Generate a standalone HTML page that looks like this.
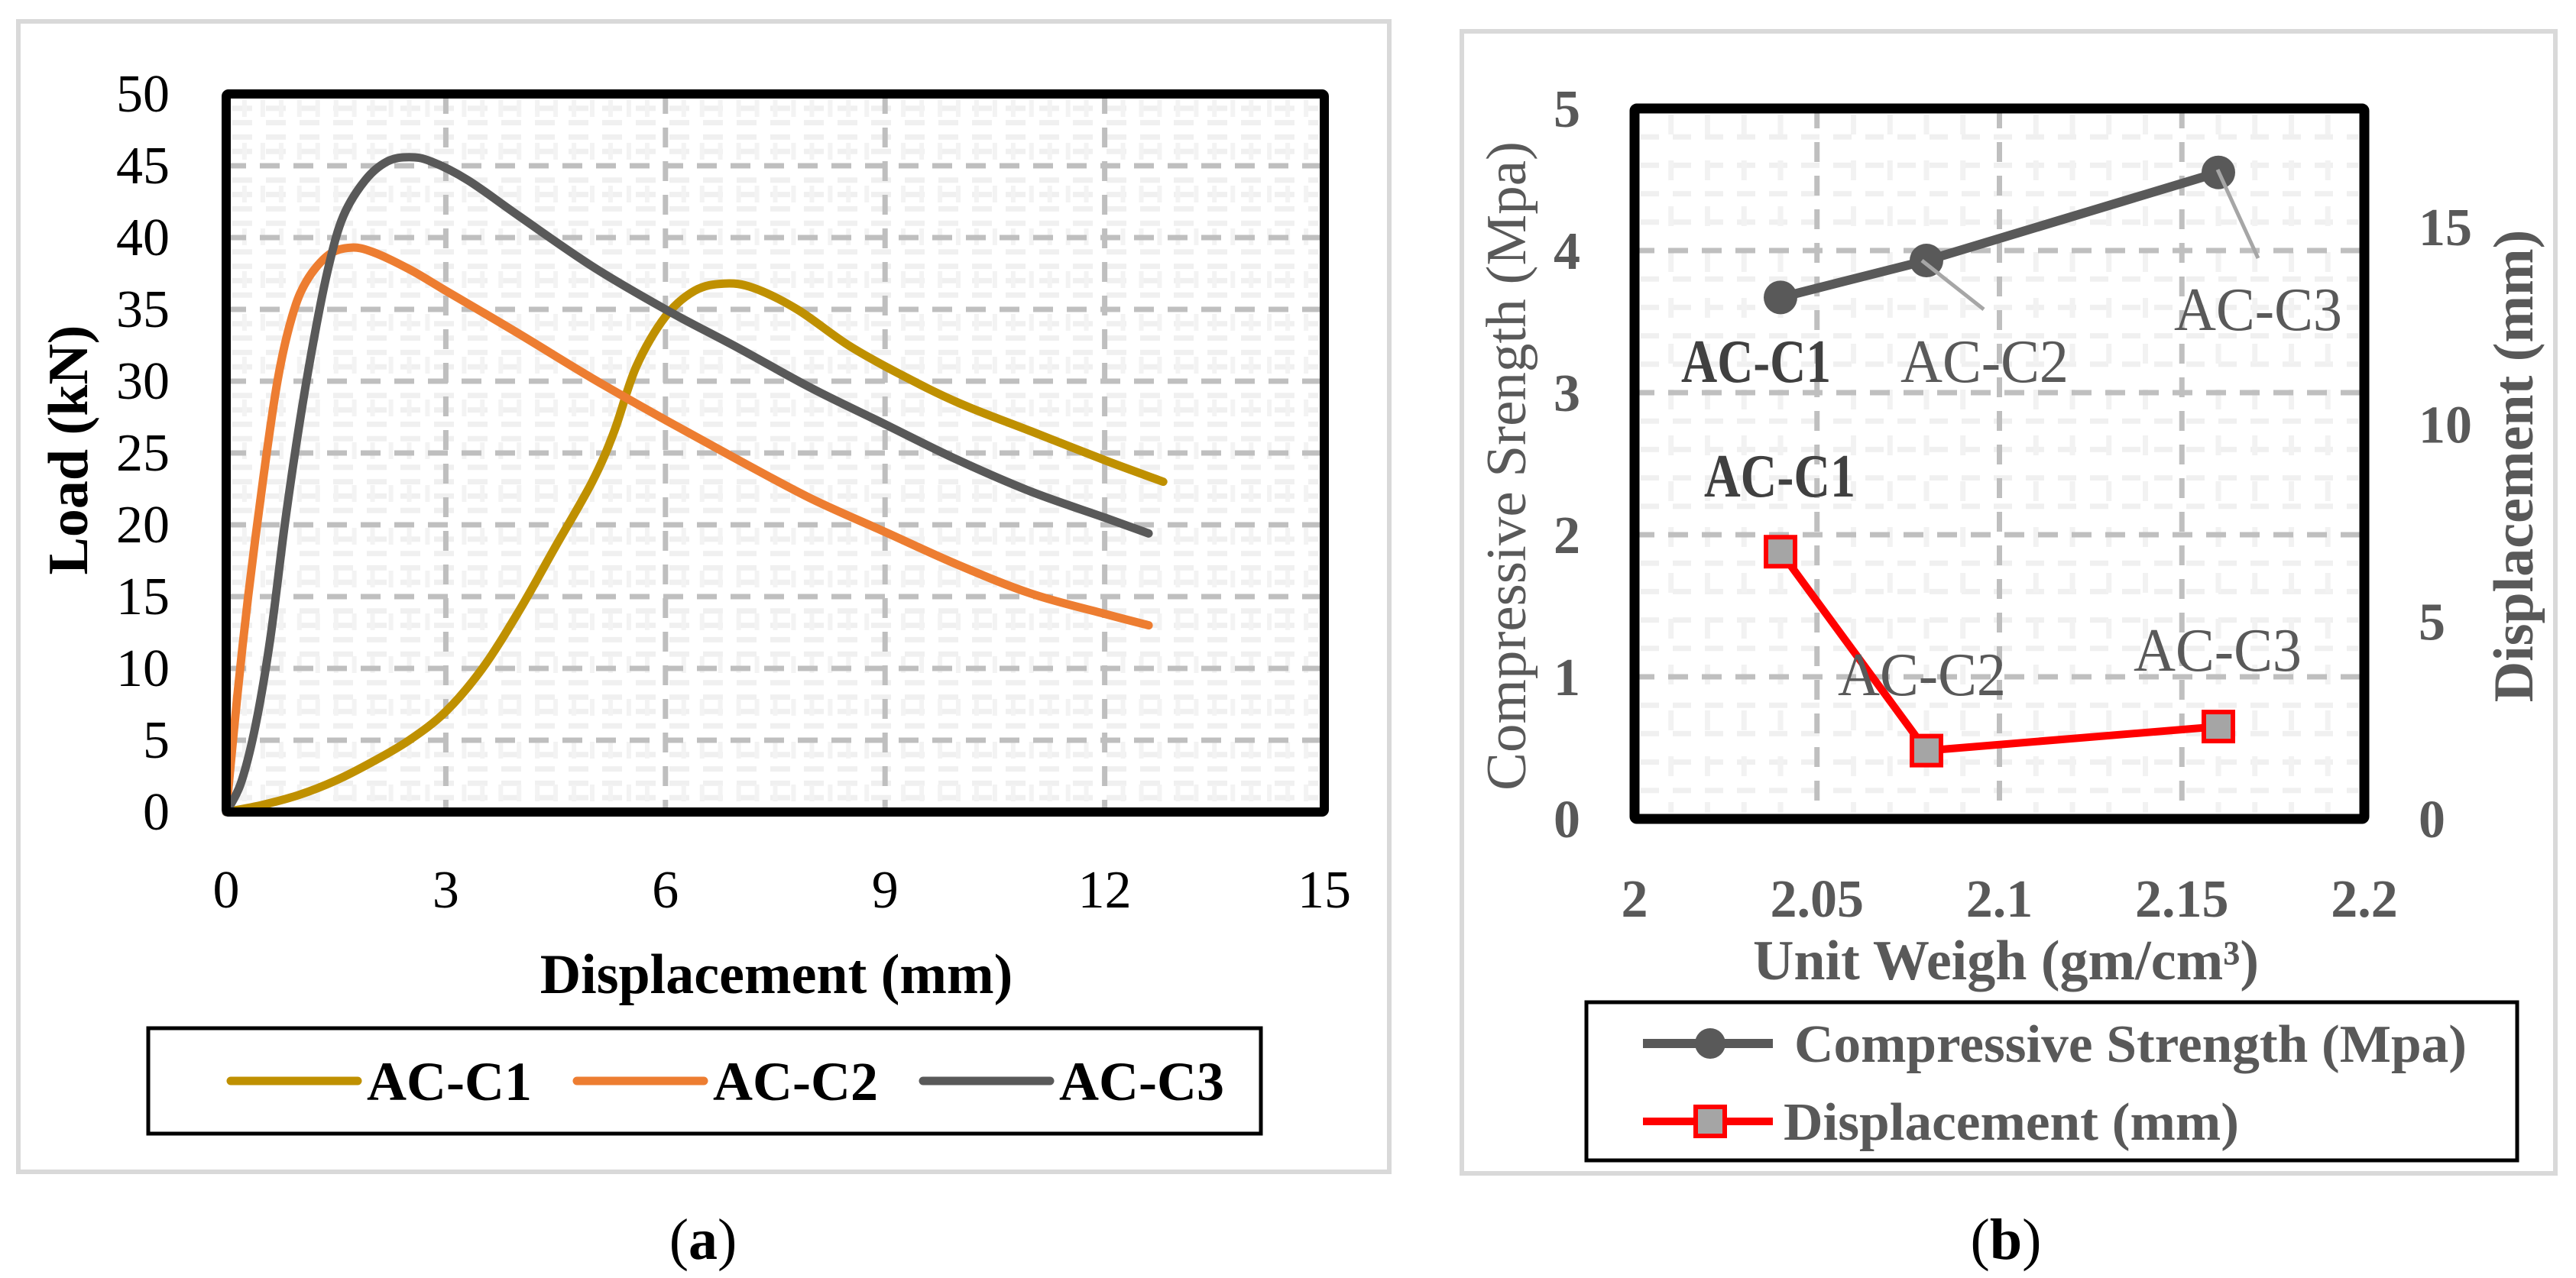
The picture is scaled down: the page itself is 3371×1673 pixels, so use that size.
<!DOCTYPE html>
<html><head><meta charset="utf-8"><style>
html,body{margin:0;padding:0;background:#fff}
svg{display:block}
text{font-family:"Liberation Serif",serif}
</style></head><body>
<svg id="fig" width="3371" height="1673" viewBox="0 0 3371 1673" xmlns="http://www.w3.org/2000/svg">
<rect x="0" y="0" width="3371" height="1673" fill="#fff"/>
<rect x="24" y="28" width="1794" height="1506" fill="none" stroke="#d9d9d9" stroke-width="6"/>
<rect x="1913" y="41" width="1431" height="1495" fill="none" stroke="#d9d9d9" stroke-width="6"/>
<g id="chartA"></g>
<g id="chartB"></g>
</svg>
<script>
// ---- Chart A data ----
const aXTicks = [0,3,6,9,12,15];
const aYTicks = [0,5,10,15,20,25,30,35,40,45,50];
const c1x = [0,0.5,1,1.5,2,2.5,3,3.5,4,4.5,5,5.3,5.6,6,6.4,6.8,7.2,7.8,8.5,9.2,10,11,12,12.8];
const c1y = [0,0.5,1.2,2.2,3.5,5,7,10,14,18.5,23,26.5,31,34.5,36.3,36.8,36.5,35,32.5,30.5,28.5,26.5,24.5,23];
const c2x = [0,0.15,0.3,0.5,0.7,0.9,1.1,1.4,1.7,2,2.5,3,4,5,6,7,8,9,10,11,12,12.6];
const c2y = [0,8,15,23,30,34.5,37,38.8,39.3,39,37.8,36.3,33.3,30.2,27.3,24.5,21.8,19.5,17.2,15.2,13.8,13];
const c3x = [0,0.2,0.4,0.6,0.8,1,1.2,1.4,1.6,1.9,2.2,2.5,2.8,3.3,4,5,6,7,8,9,10,11,12,12.6];
const c3y = [0,2,6,12,20,27,33,38,41.5,44,45.3,45.6,45.3,44,41.5,38,35,32.3,29.5,27,24.5,22.3,20.5,19.4];
const aSeriesNames = ["AC-C1","AC-C2","AC-C3"];

// ---- Chart B data ----
const bXTicks = [2,2.05,2.1,2.15,2.2];
const bYTicks = [0,1,2,3,4,5];
const bY2Ticks = [0,5,10,15];
const bUnitWeight = [2.04,2.08,2.16];
const bStrength = [3.67,3.93,4.55];
const bDisp = [6.77,1.73,2.34];
const bLabels = ["AC-C1","AC-C2","AC-C3"];

const NS="http://www.w3.org/2000/svg";
function mk(tag,attrs,parent,txt){const e=document.createElementNS(NS,tag);for(const k in attrs)e.setAttribute(k,attrs[k]);if(txt!==undefined)e.textContent=txt;parent.appendChild(e);return e;}
function smooth(P){let d='M'+P[0][0].toFixed(1)+','+P[0][1].toFixed(1);
 for(let i=0;i<P.length-1;i++){const p0=P[Math.max(i-1,0)],p1=P[i],p2=P[i+1],p3=P[Math.min(i+2,P.length-1)];
  const c1=[p1[0]+(p2[0]-p0[0])/6,p1[1]+(p2[1]-p0[1])/6],c2=[p2[0]-(p3[0]-p1[0])/6,p2[1]-(p3[1]-p1[1])/6];
  d+=' C'+c1.map(v=>v.toFixed(1)).join(',')+' '+c2.map(v=>v.toFixed(1)).join(',')+' '+p2[0].toFixed(1)+','+p2[1].toFixed(1);}
 return d;}

// ===== Chart A =====
const A=document.getElementById('chartA');
const aL=296,aR=1733,aT=123,aB=1063;
const ax=v=>aL+(v-0)/15*(aR-aL);
const ay=v=>aB-(v-0)/50*(aB-aT);
for(let k=1;k<50;k++){if(k%5===0)continue;
 const ln=mk('line',{x1:aL+8,x2:aR-8,y1:ay(k),y2:ay(k),stroke:'#f0f0f0','stroke-width':7,'stroke-dasharray':'26 18'},A);
 }
for(let k=1;k<60;k++){if(k%12===0)continue;
 const ln=mk('line',{x1:ax(k*0.25),x2:ax(k*0.25),y1:aT+8,y2:aB-8,stroke:'#f3f3f3','stroke-width':6,'stroke-dasharray':'22 34'},A);
 }
aYTicks.forEach(v=>{if(v>0&&v<50){const l=mk('line',{x1:aL,x2:aR,y1:ay(v),y2:ay(v),stroke:'#bfbfbf','stroke-width':7,'stroke-dasharray':'26 18'},A);
 }
 const t=mk('text',{x:222,y:ay(v)+23,'text-anchor':'end','font-size':70,fill:'#000'},A,String(v));
 });
aXTicks.forEach(v=>{if(v>0&&v<15){const l=mk('line',{x1:ax(v),x2:ax(v),y1:aT,y2:aB,stroke:'#bfbfbf','stroke-width':7,'stroke-dasharray':'26 18'},A);
 }
 const t=mk('text',{x:ax(v),y:1188,'text-anchor':'middle','font-size':70,fill:'#000'},A,String(v));
 });
const aCols=['#bf9000','#ed7d31','#595959'];
[[c1x,c1y],[c2x,c2y],[c3x,c3y]].forEach((s,i)=>{
 const P=s[0].map((x,j)=>[ax(x),ay(s[1][j])]);
 const p=mk('path',{d:smooth(P),fill:'none',stroke:aCols[i],'stroke-width':11,'stroke-linejoin':'round','stroke-linecap':'round'},A);
 });
const aFr=mk('rect',{x:aL,y:aT,width:aR-aL,height:aB-aT,fill:'none',stroke:'#000','stroke-width':12,rx:3},A);

let t;
t=mk('text',{x:1016,y:1300,'text-anchor':'middle','font-size':74,'font-weight':'bold'},A,'Displacement (mm)');

t=mk('text',{x:0,y:0,transform:'translate(114,589) rotate(-90)','text-anchor':'middle','font-size':74,'font-weight':'bold'},A,'Load (kN)');

const aLeg=mk('rect',{x:194,y:1346,width:1456,height:138,fill:'#fff',stroke:'#000','stroke-width':5},A);

const aLegX=[302,755,1208];
aSeriesNames.forEach((n,i)=>{
 const l=mk('line',{x1:aLegX[i],x2:aLegX[i]+166,y1:1415,y2:1415,stroke:aCols[i],'stroke-width':11,'stroke-linecap':'round'},A);
 
 const tt=mk('text',{x:aLegX[i]+178,y:1440,'font-size':72,'font-weight':'bold'},A,n);
 });
t=mk('text',{x:920,y:1648,'text-anchor':'middle','font-size':76},A,'');

mk('tspan',{},t,'(');mk('tspan',{'font-weight':'bold'},t,'a');mk('tspan',{},t,')');

// ===== Chart B =====
const B=document.getElementById('chartB');
const bL=2139,bR=3094,bT=142,bB=1072;
const bx=v=>bL+(v-2)/0.2*(bR-bL);
const by=v=>bB-v/5*(bB-bT);
const by2=v=>bB-v/18*(bB-bT);
for(let k=1;k<25;k++){if(k%5===0)continue;
 const l=mk('line',{x1:bL+8,x2:bR-8,y1:by(k*0.2),y2:by(k*0.2),stroke:'#f0f0f0','stroke-width':7,'stroke-dasharray':'24 18'},B);
 }
for(let k=1;k<20;k++){if(k%5===0)continue;
 const l=mk('line',{x1:bx(2+k*0.01),x2:bx(2+k*0.01),y1:bT+8,y2:bB-8,stroke:'#f2f2f2','stroke-width':7,'stroke-dasharray':'26 34'},B);
 }
bYTicks.forEach(v=>{if(v>0&&v<5){const l=mk('line',{x1:bL,x2:bR,y1:by(v),y2:by(v),stroke:'#bfbfbf','stroke-width':7,'stroke-dasharray':'26 18'},B);
 }
 const tt=mk('text',{x:2068,y:by(v)+24,'text-anchor':'end','font-size':70,'font-weight':'bold',fill:'#595959'},B,String(v));
 });
bY2Ticks.forEach(v=>{const tt=mk('text',{x:3165,y:by2(v)+24,'font-size':70,'font-weight':'bold',fill:'#595959'},B,String(v));
 });
bXTicks.forEach(v=>{if(v>2&&v<2.2){const l=mk('line',{x1:bx(v),x2:bx(v),y1:bT,y2:bB,stroke:'#bfbfbf','stroke-width':7,'stroke-dasharray':'26 18'},B);
 }
 const tt=mk('text',{x:bx(v),y:1200,'text-anchor':'middle','font-size':70,'font-weight':'bold',fill:'#595959'},B,String(v));
 });
let pts=bUnitWeight.map((x,i)=>bx(x)+','+by(bStrength[i])).join(' ');
let pl=mk('polyline',{points:pts,fill:'none',stroke:'#595959','stroke-width':12},B);

bUnitWeight.forEach((x,i)=>{const c=mk('circle',{cx:bx(x),cy:by(bStrength[i]),r:22,fill:'#595959'},B);
 });
pts=bUnitWeight.map((x,i)=>bx(x)+','+by2(bDisp[i])).join(' ');
pl=mk('polyline',{points:pts,fill:'none',stroke:'#ff0000','stroke-width':10},B);

bUnitWeight.forEach((x,i)=>{const r=mk('rect',{x:bx(x)-19,y:by2(bDisp[i])-19,width:38,height:38,fill:'#a5a5a5',stroke:'#ff0000','stroke-width':6},B);
 });
[[2515,341,2596,405],[2902,222,2955,338]].forEach(c=>{const l=mk('line',{x1:c[0],y1:c[1],x2:c[2],y2:c[3],stroke:'#a6a6a6','stroke-width':5},B);
 });
[[2200,500,'bold','#404040'],[2487,500,'normal','#595959'],[2845,432,'normal','#595959']].forEach((d,i)=>{
 const tt=mk('text',{x:d[0],y:d[1],'font-size':80,'font-weight':d[2],fill:d[3],textLength:d[2]==='bold'?196:220,lengthAdjust:'spacingAndGlyphs'},B,bLabels[i]);
 });
[[2230,650,'bold','#404040'],[2405,910,'normal','#595959'],[2792,878,'normal','#595959']].forEach((d,i)=>{
 const tt=mk('text',{x:d[0],y:d[1],'font-size':80,'font-weight':d[2],fill:d[3],textLength:d[2]==='bold'?198:220,lengthAdjust:'spacingAndGlyphs'},B,bLabels[i]);
 });
const bFr=mk('rect',{x:bL,y:bT,width:bR-bL,height:bB-bT,fill:'none',stroke:'#000','stroke-width':13,rx:3},B);

t=mk('text',{x:2625,y:1282,'text-anchor':'middle','font-size':74,'font-weight':'bold',fill:'#595959'},B,'Unit Weigh (gm/cm³)');

t=mk('text',{x:0,y:0,transform:'translate(1996,610) rotate(-90)','text-anchor':'middle','font-size':74,fill:'#595959',textLength:850,lengthAdjust:'spacingAndGlyphs'},B,'Compressive Srength (Mpa)');

t=mk('text',{x:0,y:0,transform:'translate(3314,610) rotate(-90)','text-anchor':'middle','font-size':74,'font-weight':'bold',fill:'#595959'},B,'Displacement (mm)');

const bLeg=mk('rect',{x:2076,y:1312,width:1218,height:207,fill:'#fff',stroke:'#000','stroke-width':5},B);

let l=mk('line',{x1:2150,x2:2320,y1:1366,y2:1366,stroke:'#595959','stroke-width':12},B);

let c=mk('circle',{cx:2238,cy:1366,r:20,fill:'#595959'},B);

t=mk('text',{x:2348,y:1390,'font-size':70,'font-weight':'bold',fill:'#595959',textLength:880,lengthAdjust:'spacingAndGlyphs'},B,'Compressive Strength (Mpa)');

l=mk('line',{x1:2150,x2:2320,y1:1468,y2:1468,stroke:'#ff0000','stroke-width':10},B);

let r=mk('rect',{x:2219,y:1449,width:38,height:38,fill:'#a5a5a5',stroke:'#ff0000','stroke-width':6},B);

t=mk('text',{x:2334,y:1492,'font-size':70,'font-weight':'bold',fill:'#595959',textLength:596,lengthAdjust:'spacingAndGlyphs'},B,'Displacement (mm)');

t=mk('text',{x:2625,y:1648,'text-anchor':'middle','font-size':76},B,'');

mk('tspan',{},t,'(');mk('tspan',{'font-weight':'bold'},t,'b');mk('tspan',{},t,')');
</script>
</body></html>
